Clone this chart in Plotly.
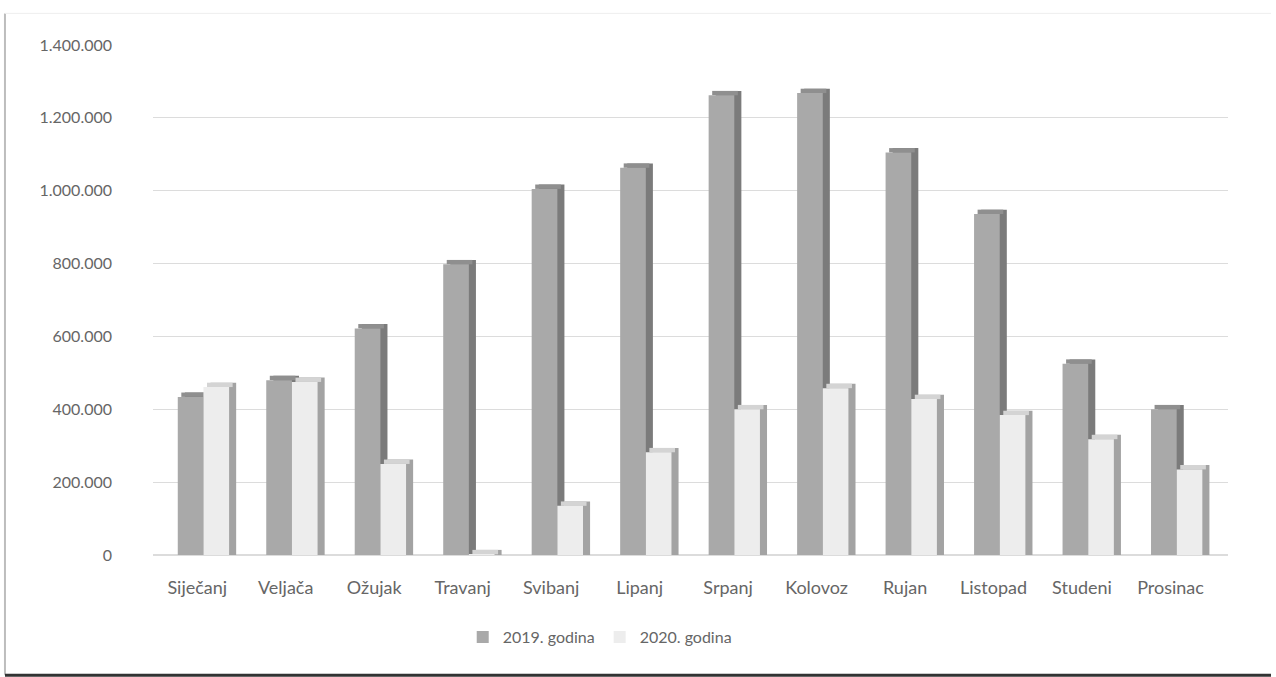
import plotly.graph_objects as go

months = ["Siječanj", "Veljača", "Ožujak", "Travanj", "Svibanj", "Lipanj",
          "Srpanj", "Kolovoz", "Rujan", "Listopad", "Studeni", "Prosinac"]
y2019 = [434000, 480000, 622000, 798000, 1005000, 1063000,
         1262000, 1268000, 1105000, 936000, 525000, 400000]
y2020 = [461000, 475000, 250000, 2000, 135000, 282000,
         400000, 458000, 428000, 384000, 318000, 235000]
series_names = ["2019. godina", "2020. godina"]
tick_vals = [0, 200000, 400000, 600000, 800000, 1000000, 1200000, 1400000]

W = 0.29      # bar width (category units)
D = 0.08      # 3D depth shift (x)
DY = 12000    # 3D depth shift (y, data units)

styles = [
    dict(front="#a9a9a9", top="#8f8f8f", side="#7b7b7b", off=-0.22),
    dict(front="#ededed", top="#d4d4d4", side="#a3a3a3", off=0.07),
]

fig = go.Figure()
for vals, name, st in zip([y2019, y2020], series_names, styles):
    # side/back face
    fig.add_trace(go.Bar(x=months, y=[v + DY for v in vals], offset=st["off"] + D,
                         width=W, marker=dict(color=st["side"], line_width=0),
                         showlegend=False, hoverinfo="skip"))
    # top face
    fig.add_trace(go.Bar(x=months, y=[DY] * len(vals), base=vals,
                         offset=st["off"] + D / 2, width=W,
                         marker=dict(color=st["top"], line_width=0),
                         showlegend=False, hoverinfo="skip"))
    # front face
    fig.add_trace(go.Bar(x=months, y=vals, offset=st["off"], width=W, name=name,
                         marker=dict(color=st["front"], line_width=0)))

fig.update_layout(
    width=1276, height=677,
    barmode="overlay",
    separators=",.",
    plot_bgcolor="white", paper_bgcolor="white",
    margin=dict(l=153, r=48, t=45, b=122),
    font=dict(family="Lato, 'Open Sans', sans-serif", size=16, color="#666666"),
    xaxis=dict(range=[-0.5, 11.65], showgrid=False, showline=False, ticks="",
               ticklabelstandoff=20, tickfont=dict(size=18)),
    yaxis=dict(range=[0, 1400000], tickvals=tick_vals, tickformat=",d",
               showgrid=True, gridcolor="#dcdcdc", gridwidth=1, zeroline=True,
               zerolinecolor="#dcdcdc", ticks="", ticklabelstandoff=40,
               tickfont=dict(size=16)),
    legend=dict(orientation="h", xref="container", yref="container",
                x=0.47, y=0.059, xanchor="center", yanchor="middle",
                font=dict(size=16, color="#666666"), itemwidth=30),
    shapes=[
        dict(type="line", xref="paper", yref="paper", x0=-0.1377, x1=-0.1377,
             y0=-0.235, y1=1.062, line=dict(color="#bdbdbd", width=2)),
        dict(type="line", xref="paper", yref="paper", x0=-0.1377, x1=1.04,
             y0=1.062, y1=1.062, line=dict(color="#eeeeee", width=1)),
        dict(type="line", xref="paper", yref="paper", x0=-0.1377, x1=1.04,
             y0=-0.236, y1=-0.236, line=dict(color="#333333", width=3)),
    ],
)

fig.write_html("out.html")
